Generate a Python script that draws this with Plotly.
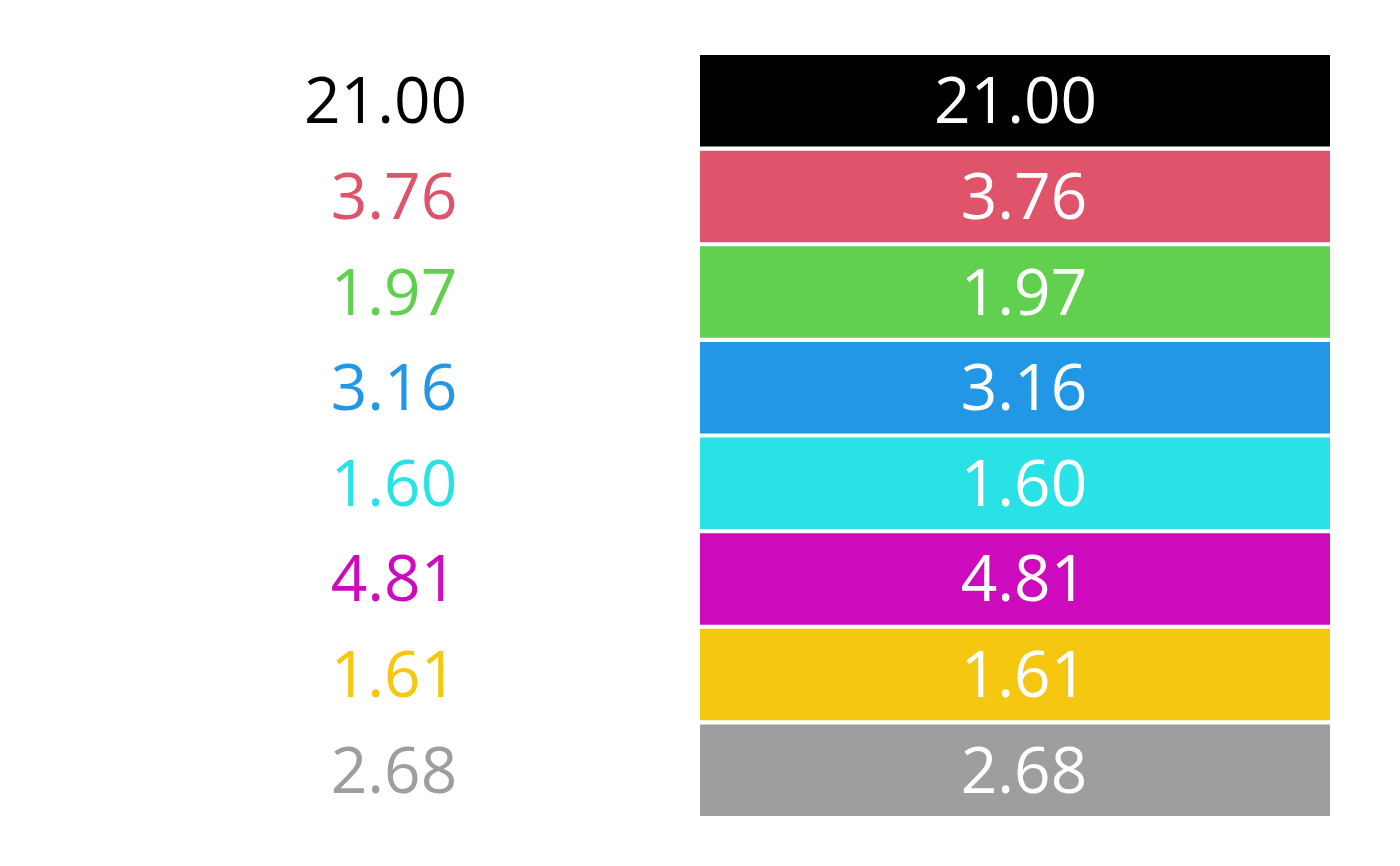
import plotly.graph_objects as go

# --- data ---
rows = ["r1", "r2", "r3", "r4", "r5", "r6", "r7", "r8"]
values = [21.00, 3.76, 1.97, 3.16, 1.60, 4.81, 1.61, 2.68]
colors = ["#000000", "#DF536B", "#61D04F", "#2297E6", "#28E2E5", "#CD0BBC", "#F5C710", "#9E9E9E"]
# fixed width labels (leading pad keeps them aligned like the original)
labels = [f"{v:5.2f}".replace(" ", "\u00a0") for v in values]

# column geometry (x axis in figure pixels, 0..1384)
col_width = 630
left_start = 62
right_start = 692

fig = go.Figure()

# --- right column: coloured cells ---
fig.add_trace(go.Bar(
    x=[col_width] * len(rows), y=rows, base=right_start,
    orientation="h", marker=dict(color=colors, line=dict(width=0)),
    hoverinfo="skip", showlegend=False,
))

# --- cell texts ---
for row, lab, col in zip(rows, labels, colors):
    fig.add_annotation(x=left_start + col_width / 2, y=row, text=lab, showarrow=False,
                       font=dict(family="Open Sans", size=64, color=col),
                       xanchor="center", yanchor="middle", yshift=2)
    fig.add_annotation(x=right_start + col_width / 2, y=row, text=lab, showarrow=False,
                       font=dict(family="Open Sans", size=64, color="white"),
                       xanchor="center", yanchor="middle", yshift=2)

fig.update_layout(
    width=1384, height=850,
    margin=dict(l=0, r=0, t=45, b=40),
    paper_bgcolor="white", plot_bgcolor="white",
    bargap=0.042,
    xaxis=dict(range=[0, 1384], visible=False, fixedrange=True),
    yaxis=dict(categoryorder="array", categoryarray=rows, autorange="reversed",
               visible=False, fixedrange=True),
)

fig.write_html("out.html")
